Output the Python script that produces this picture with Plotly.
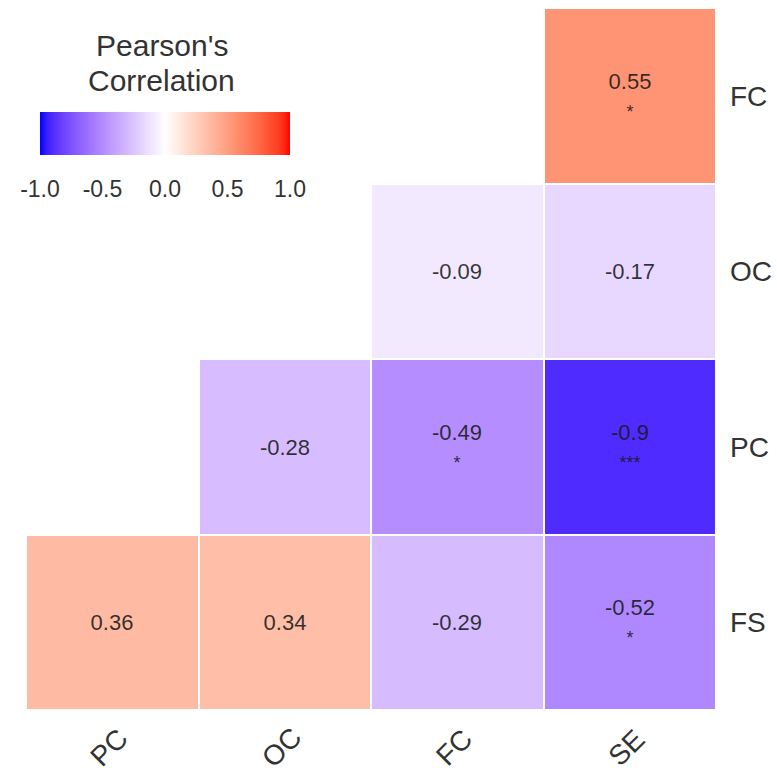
import plotly.graph_objects as go
import numpy as np

x_labels = ["PC", "OC", "FC", "SE"]
y_labels = ["FS", "PC", "OC", "FC"]  # bottom to top

row_FS = [0.36, 0.34, -0.29, -0.52]
row_PC = [None, -0.28, -0.49, -0.9]
row_OC = [None, None, -0.09, -0.17]
row_FC = [None, None, None, 0.55]

stars_FS = ["", "", "", "*"]
stars_PC = ["", "", "*", "***"]
stars_OC = ["", "", "", ""]
stars_FC = ["", "", "", "*"]

cbar_ticks = [-1, -0.5, 0, 0.5, 1]
cbar_ticktext = ["-1.0", "-0.5", "0.0", "0.5", "1.0"]
legend_title = ["Pearson's", "Correlation"]

z = [row_FS, row_PC, row_OC, row_FC]
stars = [stars_FS, stars_PC, stars_OC, stars_FC]

text = []
for zr, sr in zip(z, stars):
    tr = []
    for v, s in zip(zr, sr):
        if v is None:
            tr.append("")
        else:
            t = f"{v:g}"
            if s:
                t += f"<br><span style='font-size:18px'>{s}</span>"
            tr.append(t)
    text.append(tr)

# Lab-space diverging scale blue-white-red (as ggplot gradient2)
def srgb_to_lin(c):
    c = c / 255.0
    return np.where(c <= 0.04045, c / 12.92, ((c + 0.055) / 1.055) ** 2.4)

def lin_to_srgb(c):
    c = np.clip(c, 0, 1)
    return np.where(c <= 0.0031308, 12.92 * c, 1.055 * c ** (1 / 2.4) - 0.055) * 255

M = np.array([[0.4124, 0.3576, 0.1805], [0.2126, 0.7152, 0.0722], [0.0193, 0.1192, 0.9505]])
Minv = np.linalg.inv(M)
wp = np.array([0.95047, 1.0, 1.08883])

def f(t):
    d = 6 / 29
    return np.where(t > d ** 3, np.cbrt(t), t / (3 * d * d) + 4 / 29)

def finv(t):
    d = 6 / 29
    return np.where(t > d, t ** 3, 3 * d * d * (t - 4 / 29))

def rgb2lab(rgb):
    xyz = M @ srgb_to_lin(np.array(rgb, float)) / wp
    fx, fy, fz = f(xyz)
    return np.array([116 * fy - 16, 500 * (fx - fy), 200 * (fy - fz)])

def lab2rgb(lab):
    L, a, b = lab
    fy = (L + 16) / 116
    fx = fy + a / 500
    fz = fy - b / 200
    xyz = np.array([finv(fx), finv(fy), finv(fz)]) * wp
    return lin_to_srgb(Minv @ xyz)

blue = rgb2lab([0, 0, 255])
white = rgb2lab([255, 255, 255])
red = rgb2lab([255, 0, 0])
cs = []
n = 20
for i in range(n + 1):
    t = i / n
    r, g, b = lab2rgb(blue + (white - blue) * t)
    cs.append([t * 0.5, f"rgb({r:.0f},{g:.0f},{b:.0f})"])
for i in range(1, n + 1):
    t = i / n
    r, g, b = lab2rgb(white + (red - white) * t)
    cs.append([0.5 + t * 0.5, f"rgb({r:.0f},{g:.0f},{b:.0f})"])

FONT = "Liberation Sans, Arial"

fig = go.Figure(go.Heatmap(
    x=x_labels, y=y_labels, z=z,
    text=text, texttemplate="%{text}",
    textfont=dict(family=FONT, size=22, color="rgba(25,25,25,0.88)"),
    colorscale=cs, zmin=-1, zmax=1, xgap=2, ygap=2,
    hoverongaps=False,
    colorbar=dict(
        orientation="h", lenmode="pixels", len=250, thickness=43,
        x=0.2014, xanchor="center", y=0.8519, yanchor="top",
        xpad=0, ypad=0,
        tickvals=cbar_ticks, ticktext=cbar_ticktext,
        ticks="outside", ticklen=15, tickcolor="rgba(0,0,0,0)",
        tickfont=dict(family=FONT, size=23, color="#333"),
        outlinewidth=0,
    ),
))

# legend title (two tight lines, like ggplot)
for i, line in enumerate(legend_title):
    fig.add_annotation(text=line, xref="paper", yref="paper",
                       x=0.197, y=[0.9459, 0.8974][i], xanchor="center", yanchor="middle",
                       showarrow=False, font=dict(family=FONT, size=30, color="#333"))

# rotated x labels, centred under each column
for lab in x_labels:
    fig.add_annotation(text=lab, x=lab, xref="x", yref="paper", y=-0.054,
                       xanchor="center", yanchor="middle", textangle=-45,
                       xshift=-3, showarrow=False,
                       font=dict(family=FONT, size=28, color="#333"))

fig.update_layout(
    width=777, height=779,
    margin=dict(l=26, r=61, t=8, b=69),
    plot_bgcolor="white", paper_bgcolor="white",
    font=dict(family=FONT, color="#333"),
    xaxis=dict(showticklabels=False, showgrid=False, zeroline=False, ticks="",
               automargin=False),
    yaxis=dict(side="right", showgrid=False, zeroline=False, ticks="",
               tickfont=dict(size=28, color="#333"), ticklabelstandoff=13,
               automargin=False),
)

fig.write_html("out.html", config={"displayModeBar": False},
               post_script="document.body.style.margin='0px';")
